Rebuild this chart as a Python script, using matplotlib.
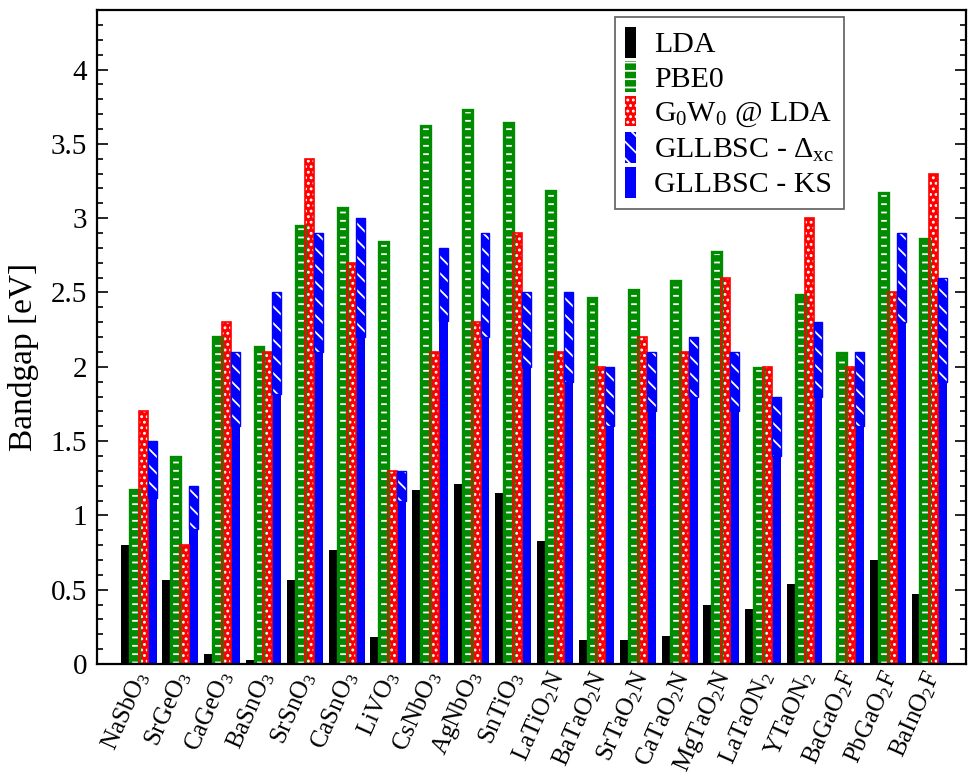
import numpy as np
import matplotlib
matplotlib.use("Agg")
import matplotlib.pyplot as plt

# ─── Data ──────────────────────────────────────────────────────────────────────

compounds = ["NaSbO$_3$", "SrGeO$_3$", "CaGeO$_3$", "BaSnO$_3$", "SrSnO$_3$",
             "CaSnO$_3$", "LiVO$_3$", "CsNbO$_3$", "AgNbO$_3$", "SnTiO$_3$",
             "LaTiO$_2$N", "BaTaO$_2$N", "SrTaO$_2$N", "CaTaO$_2$N", "MgTaO$_2$N",
             "LaTaON$_2$", "YTaON$_2$", "BaGaO$_2$F", "PbGaO$_2$F", "BaInO$_2$F"]

lda      = [0.80, 0.565, 0.065, 0.03, 0.565, 0.77, 0.18, 1.17, 1.21, 1.15,
            0.83, 0.16, 0.16, 0.19, 0.40, 0.37, 0.54, 0.01, 0.70, 0.47]
pbe0     = [1.17, 1.39, 2.20, 2.13, 2.95, 3.07, 2.84, 3.62, 3.73, 3.64,
            3.18, 2.46, 2.52, 2.58, 2.77, 1.99, 2.48, 2.09, 3.17, 2.86]
g0w0     = [1.70, 0.80, 2.30, 2.10, 3.40, 2.70, 1.30, 2.10, 2.30, 2.90,
            2.10, 2.00, 2.20, 2.10, 2.60, 2.00, 3.00, 2.00, 2.50, 3.30]
gllb_tot = [1.50, 1.20, 2.10, 2.50, 2.90, 3.00, 1.30, 2.80, 2.90, 2.50,
            2.50, 2.00, 2.10, 2.20, 2.10, 1.80, 2.30, 2.10, 2.90, 2.60]
gllb_ks  = [1.12, 0.91, 1.60, 1.82, 2.10, 2.20, 1.10, 2.31, 2.20, 2.00,
            1.90, 1.60, 1.70, 1.80, 1.70, 1.40, 1.80, 1.60, 2.30, 1.90]

# ─── Style ─────────────────────────────────────────────────────────────────────

plt.rcParams["font.family"] = ["Liberation Serif", "DejaVu Serif"]
plt.rcParams["mathtext.fontset"] = "custom"
plt.rcParams["mathtext.rm"] = "Liberation Serif"
plt.rcParams["mathtext.it"] = "Liberation Serif:italic"
plt.rcParams["mathtext.bf"] = "Liberation Serif:bold"
plt.rcParams["hatch.linewidth"] = 1.3

GREEN = "#008b00"
RED   = "#ff0000"
BLUE  = "#0000ff"

x = np.arange(1, len(compounds) + 1)
w = 0.215
delta = np.array(gllb_tot) - np.array(gllb_ks)

fig = plt.figure(figsize=(9.68, 7.78), dpi=100)
ax = fig.add_axes([0.1002, 0.1465, 0.8978, 0.8405])

b_lda = ax.bar(x - 1.5 * w, lda, w, color="black", linewidth=0, label="LDA")

# coloured faces with white hatching (edgecolor left unset -> hatch.color used)
with plt.rc_context({"hatch.color": "white"}):
    b_pbe = ax.bar(x - 0.5 * w, pbe0, w, facecolor=GREEN, hatch="--",
                   label="PBE0")
    b_gw = ax.bar(x + 0.5 * w, g0w0, w, facecolor=RED, hatch="...",
                  label="G$_0$W$_0$ @ LDA")
    b_dx = ax.bar(x + 1.5 * w, delta, w, bottom=gllb_ks, facecolor=BLUE,
                  hatch="\\\\", label="GLLBSC - $\\Delta_\\mathrm{xc}$")
b_ks = ax.bar(x + 1.5 * w, gllb_ks, w, color=BLUE, linewidth=0,
              label="GLLBSC - KS")

# outlines on top
ax.bar(x - 0.5 * w, pbe0, w, fill=False, edgecolor=GREEN, linewidth=2.4)
ax.bar(x + 0.5 * w, g0w0, w, fill=False, edgecolor=RED, linewidth=1.2)
ax.bar(x + 1.5 * w, delta, w, bottom=gllb_ks, fill=False, edgecolor=BLUE,
       linewidth=1.0)

# ─── Axes ──────────────────────────────────────────────────────────────────────

ax.set_xlim(0, 20.88)
ax.set_ylim(0, 4.4)
ax.set_yticks(np.arange(0, 4.01, 0.5))
ax.set_yticklabels(["0", "0.5", "1", "1.5", "2", "2.5", "3", "3.5", "4"])
ax.set_yticks(np.arange(0, 4.41, 0.1), minor=True)
ax.tick_params(axis="y", which="both", direction="in", left=True, right=True,
               width=1.2, labelsize=21, pad=7)
ax.tick_params(axis="y", which="major", length=8)
ax.tick_params(axis="y", which="minor", length=4.5)
ax.set_xticks(x + 0.1)
ax.set_xticklabels(compounds, rotation=66, ha="right", va="center",
                   rotation_mode="anchor", fontsize=18)
ax.tick_params(axis="x", length=0, pad=6)
for s in ax.spines.values():
    s.set_linewidth(1.6)

ax.set_ylabel("Bandgap [eV]", fontsize=24)
ax.yaxis.set_label_coords(-0.067, 0.47)

leg = ax.legend(handles=[b_lda, b_pbe, b_gw, b_dx, b_ks],
                loc="upper left", bbox_to_anchor=(0.596, 0.99),
                fontsize=21.5, frameon=True, fancybox=False,
                handlelength=0.35, handleheight=1.2, handletextpad=0.6,
                labelspacing=0.1, borderpad=0.35, borderaxespad=0)
leg.get_frame().set_edgecolor("#444444")
leg.get_frame().set_linewidth(1.3)

fig.savefig("out.png", dpi=100)
